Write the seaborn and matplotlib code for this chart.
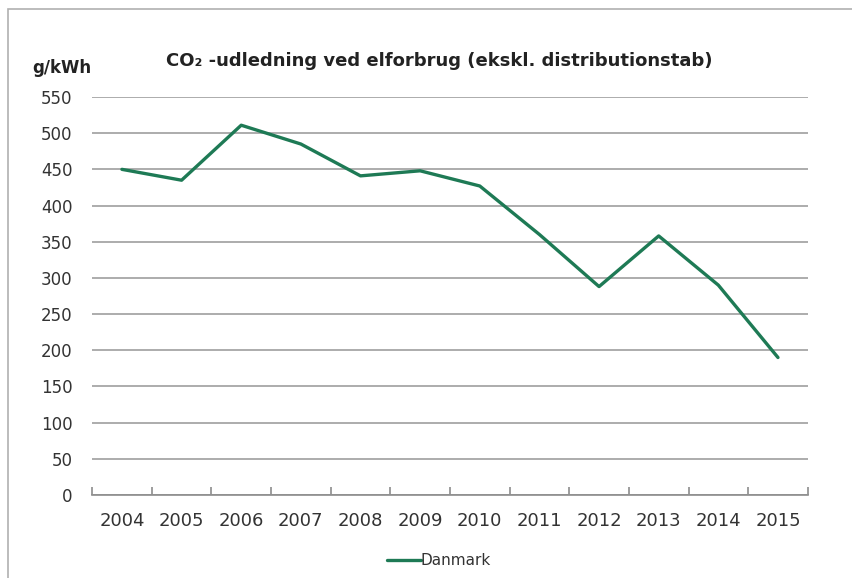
import matplotlib
matplotlib.use('Agg')
import matplotlib.pyplot as plt
import numpy as np
import pandas as pd
import seaborn as sns
from matplotlib.lines import Line2D

years = ['2004', '2005', '2006', '2007', '2008', '2009', '2010', '2011', '2012', '2013', '2014', '2015']
danmark = [450, 435, 511, 485, 441, 448, 427, 360, 288, 358, 290, 190]

df = pd.DataFrame({'year': years, 'g_kwh': danmark})

sns.set_style('white')
plt.rcParams['font.family'] = ['DejaVu Sans']

green = '#1e7a55'
fig = plt.figure(figsize=(8.53, 5.78), dpi=100)
ax = fig.add_axes([0.108, 0.1436, 0.839, 0.6886])

sns.lineplot(data=df, x='year', y='g_kwh', color=green, linewidth=2.4, sort=False, ax=ax)

ax.set_ylim(0, 550)
ax.set_xlim(-0.5, len(years) - 0.5)
ax.set_yticks(np.arange(0, 551, 50))
ax.yaxis.grid(True, color='#a6a6a6', linewidth=1.3)
ax.set_axisbelow(True)
for s in ['top', 'right', 'left']:
    ax.spines[s].set_visible(False)
ax.spines['bottom'].set_color('#8c8c8c')
ax.spines['bottom'].set_linewidth(1.2)
ax.tick_params(axis='y', length=0, labelsize=12, labelcolor='#333333', pad=14)
ax.tick_params(axis='x', length=0, labelsize=13, labelcolor='#333333', pad=12)
# Excel-style tick marks between categories
ax.set_xticks(np.arange(-0.5, len(years), 1.0), minor=True)
ax.tick_params(axis='x', which='minor', bottom=True, length=6, direction='in',
               color='#8c8c8c', width=1.2)
ax.set_xlabel('')
ax.set_ylabel('')

fig.text(0.515, 0.895, 'CO\u2082 -udledning ved elforbrug (ekskl. distributionstab)',
         ha='center', va='center', fontsize=13, fontweight='bold', color='#222222')
fig.text(0.072, 0.882, 'g/kWh', ha='center', va='center', fontsize=12,
         fontweight='bold', color='#222222')

handle = Line2D([0], [0], color=green, linewidth=2.4)
fig.legend([handle], ['Danmark'], loc='center', bbox_to_anchor=(0.515, 0.03),
           frameon=False, fontsize=11, handlelength=2.2, handletextpad=0.0,
           labelcolor='#333333')

# outer chart border
fig.add_artist(plt.Rectangle((8 / 853, -0.1), 1.2, 1 - 9 / 578 + 0.1,
                             transform=fig.transFigure, fill=False,
                             edgecolor='#b0b0b0', linewidth=1.2))

fig.savefig('out.png', dpi=100)
